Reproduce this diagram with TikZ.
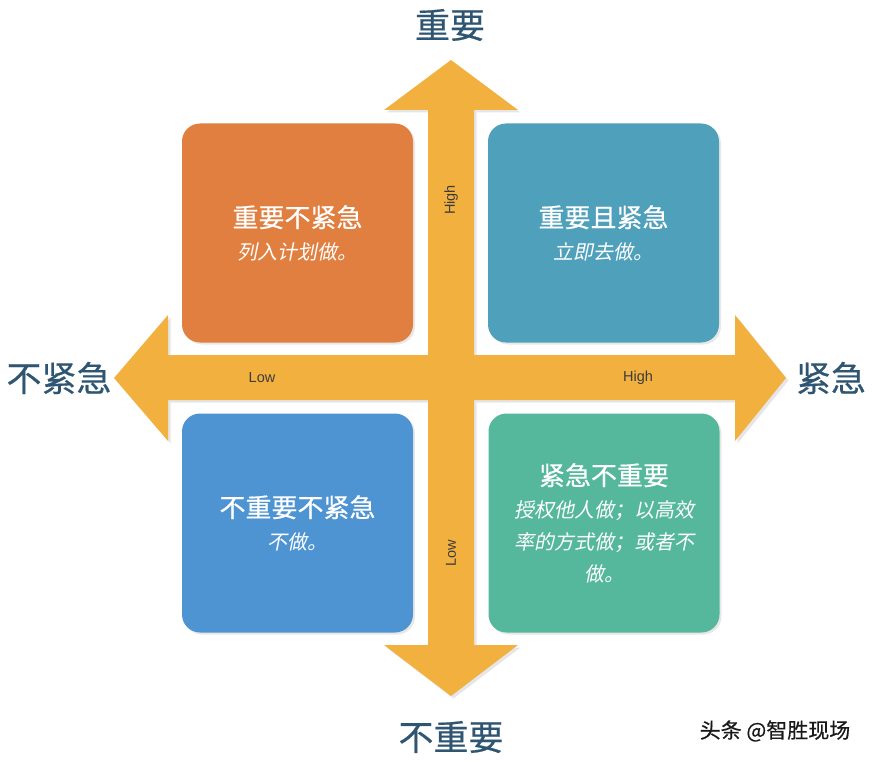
\documentclass[tikz,border=0pt]{standalone}
\usepackage{fontspec}
\setmainfont{Noto Sans CJK SC}
\newfontfamily\cjkslant[FakeSlant=0.2]{Noto Sans CJK SC}
\newfontfamily\cjkheavy[FakeBold=0.5]{Noto Sans CJK SC}
\newfontfamily\axisfont{Liberation Sans}
\usetikzlibrary{shadows}
\definecolor{arrowcol}{HTML}{F2B03E}
\definecolor{quador}{HTML}{E07F3F}
\definecolor{quadtl}{HTML}{4FA0BB}
\definecolor{quadbl}{HTML}{4E94D3}
\definecolor{quadgr}{HTML}{55B89C}
\definecolor{titcol}{HTML}{2E5571}
\definecolor{gris}{HTML}{3C3C3C}
\newcommand{\qtit}[1]{{\cjkheavy\fontsize{26}{34}\selectfont #1}}
\newcommand{\qsub}[1]{{\cjkslant\fontsize{20}{32}\selectfont #1}}
\tikzset{
  quad/.style={rounded corners=18pt,minimum width=231pt,minimum height=219pt,
    text=white,align=center,inner sep=0pt,font=\fontsize{20}{32}\selectfont,
    drop shadow={opacity=0.18,shadow xshift=2pt,shadow yshift=-2pt}},
  axtitle/.style={text=titcol,font=\cjkheavy\fontsize{35}{40}\selectfont,inner sep=0pt},
  axlbl/.style={text=gris,font=\axisfont\fontsize{14.5}{16}\selectfont,inner sep=0pt},
}

\begin{document}
\begin{tikzpicture}[x=1pt,y=-1pt]
    \useasboundingbox (0,0) rectangle (876,762);
    % the cross of arrows
    \fill[arrowcol,drop shadow={opacity=0.2,shadow xshift=2.5pt,shadow yshift=-2.5pt}]
      (451,60) -- (518,110) -- (474,110) -- (474,355) -- (735,355) -- (735,315)
      -- (786,378) -- (735,441) -- (735,400) -- (474,400) -- (474,645) -- (518,645)
      -- (451,696) -- (384,645) -- (428,645) -- (428,400) -- (168,400) -- (168,441)
      -- (114,378) -- (168,315) -- (168,355) -- (428,355) -- (428,110) -- (384,110) -- cycle;
    % axis ends
    \node[axtitle] (imp) at (450,25) {重要};
    \node[axtitle] (unimp) at (451,737) {不重要};
    \node[axtitle] (nonurg) at (59,378) {不紧急};
    \node[axtitle] (urg) at (831,378) {紧急};
    \node[axlbl,rotate=90] (vhigh) at (451,200) {High};
    \node[axlbl,rotate=90] (vlow) at (451,553) {Low};
    \node[axlbl] (hlow) at (262,378) {Low};
    \node[axlbl] (hhigh) at (638,378) {High};
    % quadrants
    \node[quad,fill=quador] (q1) at (297.5,233) {\qtit{重要不紧急}\\\qsub{列入计划做。}};
    \node[quad,fill=quadtl] (q2) at (603.5,233) {\qtit{重要且紧急}\\\qsub{立即去做。}};
    \node[quad,fill=quadbl] (q3) at (297.5,523) {\qtit{不重要不紧急}\\\qsub{不做。}};
    \node[quad,fill=quadgr] (q4) at (604,523) {\qtit{紧急不重要}\\\qsub{授权他人做；以高效}\\\qsub{率的方式做；或者不}\\\qsub{做。}};
    \node[text=black!90,font=\cjkheavy\fontsize{21}{24}\selectfont] (mark) at (775,731) {头条 @智胜现场};
\end{tikzpicture}
\end{document}
